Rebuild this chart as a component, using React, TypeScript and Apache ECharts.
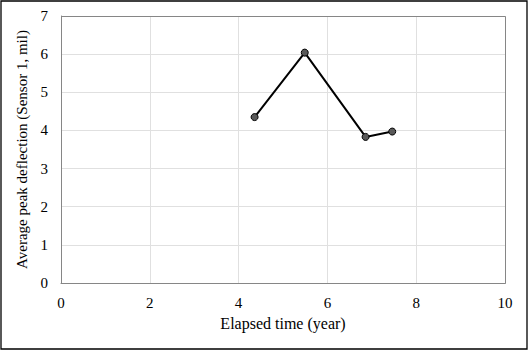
import React, { useEffect, useRef } from "react";
import * as echarts from "echarts";

const elapsedYears = [4.36, 5.49, 6.86, 7.46];
const peakDeflection = [4.35, 6.04, 3.83, 3.97];
const xTicks = [0, 2, 4, 6, 8, 10];
const yTicks = [0, 1, 2, 3, 4, 5, 6, 7];

export default function App() {
  const ref = useRef<HTMLDivElement>(null);
  useEffect(() => {
    document.body.style.margin = "0";
    const chart = echarts.init(ref.current!, null, { renderer: "svg" });
    const font = "Liberation Serif";
    chart.setOption({
      animation: false,
      backgroundColor: "#fff",
      textStyle: { fontFamily: font },
      grid: { left: 61, right: 24, top: 16, bottom: 68, containLabel: false },
      graphic: [
        {
          type: "rect",
          shape: { x: 1, y: 1, width: 526, height: 348 },
          style: { fill: "none", stroke: "#000", lineWidth: 1.3 },
          silent: true,
        },
        {
          type: "rect",
          shape: { x: 61.5, y: 16.5, width: 444, height: 267 },
          style: { fill: "none", stroke: "#868686", lineWidth: 1 },
          silent: true,
          z: 1,
        },
      ],
      xAxis: {
        type: "value",
        min: xTicks[0],
        max: xTicks[xTicks.length - 1],
        interval: 2,
        name: "Elapsed time (year)",
        nameLocation: "middle",
        nameGap: 32,
        nameTextStyle: { fontFamily: font, fontSize: 16, color: "#000" },
        axisLine: { show: true, lineStyle: { color: "#868686", width: 1 } },
        axisTick: { show: false },
        axisLabel: { fontFamily: font, fontSize: 15, color: "#000", margin: 12 },
        splitLine: { show: true, lineStyle: { color: "#e0e0e0", width: 1 } },
      },
      yAxis: {
        type: "value",
        min: yTicks[0],
        max: yTicks[yTicks.length - 1],
        interval: 1,
        name: "Average peak deflection (Sensor 1, mil)",
        nameLocation: "middle",
        nameGap: 21,
        nameTextStyle: { fontFamily: font, fontSize: 15, color: "#000" },
        axisLine: { show: true, lineStyle: { color: "#868686", width: 1 } },
        axisTick: { show: false },
        axisLabel: { fontFamily: font, fontSize: 15, color: "#000", margin: 13 },
        splitLine: { show: true, lineStyle: { color: "#e0e0e0", width: 1 } },
      },
      series: [
        {
          type: "line",
          data: elapsedYears.map((x, i) => [x, peakDeflection[i]]),
          lineStyle: { color: "#000", width: 2 },
          symbol: "circle",
          symbolSize: 7,
          itemStyle: { color: "#595959", borderColor: "#000", borderWidth: 1 },
          z: 3,
        },
      ],
    });
    return () => chart.dispose();
  }, []);
  return <div ref={ref} style={{ width: 529, height: 351 }} />;
}
